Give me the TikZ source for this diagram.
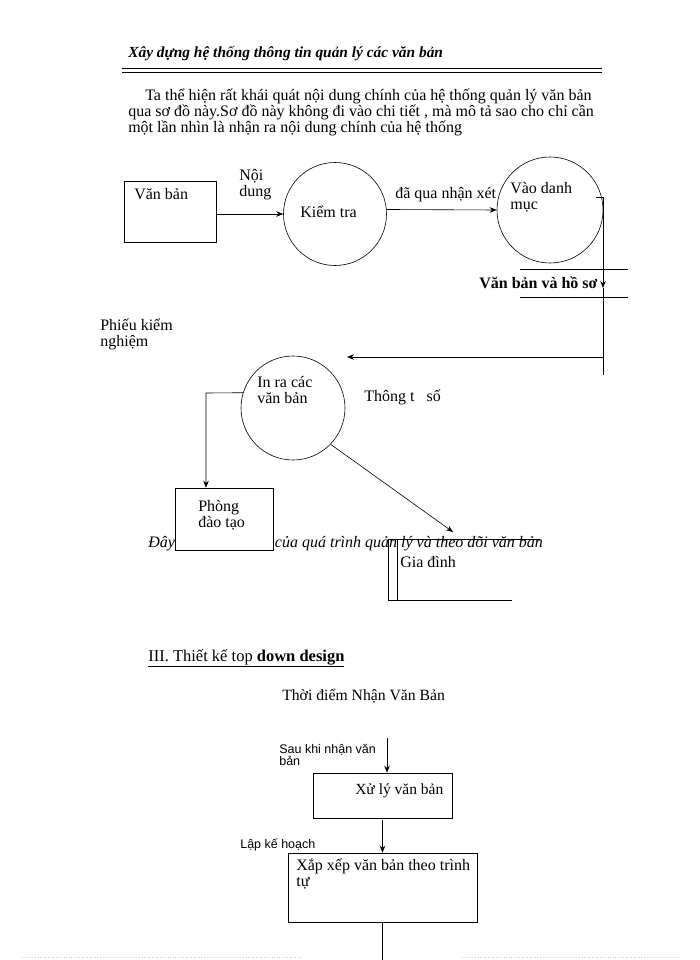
\documentclass[tikz,border=0pt]{standalone}
\usepackage{fontspec}
\setmainfont{Liberation Serif}
\newfontfamily\arialfont{Liberation Sans}
\usetikzlibrary{arrows.meta}
\begin{document}
\begin{tikzpicture}[x=1pt,y=-1pt,every node/.style={inner sep=0pt,align=left},arrow/.style={>={Stealth[length=7pt,width=5.5pt]},->},hop/.style={draw,rectangle,fill=white},tron/.style={draw,circle},nho/.style={font=\arialfont\fontsize{12.5}{12}\selectfont},font=\fontsize{16}{16}\selectfont,line width=0.6pt]
    \useasboundingbox (0,0) rectangle (700,960);
    % tieu de trang
    \node[anchor=base west,font=\fontsize{15.4}{18}\selectfont\bfseries\itshape] (tieude) at (128,58) {Xây dựng hệ thống thông tin quản lý các văn bản};
    \draw[line width=1.8pt] (122,68.5) -- (602,68.5);
    \draw (122,72) -- (602,72);
    % doan van
    \foreach \x/\y/\dong in {145/101/{Ta thể hiện rất khái quát nội dung chính của hệ thống quản lý văn bản},128/117/{qua sơ đồ này.Sơ đồ này không đi vào chi tiết , mà mô tả sao cho chỉ cần},128/133/{một lần nhìn là nhận ra nội dung chính của hệ thống}}
        \path node[anchor=base west] (dong\y) at (\x,\y) {\dong};
    % so do tong quat
    \node[hop,minimum width=92,minimum height=61] (vb) at (170,211.5) {};
    \path node[anchor=base west] (tvb) at (134,200) {Văn bản};
    \path node[anchor=north west] (nd) at (239,169) {Nội\\dung};
    \node[tron,minimum size=103] (kt) at (335,214) {};
    \path node[anchor=base west] (tkt) at (300,217) {Kiểm tra};
    \node[tron,minimum size=106] (vdm) at (550,210) {};
    \path node[anchor=north west] (tvdm) at (510,182) {Vào danh\\mục};
    \path node[anchor=base west] (nx) at (395,198) {đã qua nhận xét};
    \draw[arrow] (vb.east|-kt.west) -- (kt.west);
    \draw[arrow] (kt.5) -- (vdm.west);
    % kho van ban
    \draw (520,269) -- (628,269) (520,297) -- (628,297);
    \path node[anchor=base west,font=\fontsize{16}{16}\selectfont\bfseries] (vbhs) at (479,288) {Văn bản và hồ sơ};
    \coordinate (goc) at (603,197);
    \coordinate (cuoi) at (603,375);
    \coordinate (re) at (603,357);
    \coordinate (dich) at (347,357);
    \draw ([xshift=-7pt]goc) -- (goc);
    \draw[arrow] (goc) -- (goc|-vbhs.base);
    \draw (goc|-vbhs.base) -- (cuoi);
    \draw[arrow] (re) -- (dich);
    \path node[anchor=north west] (pkn) at (100,319) {Phiếu kiểm\\nghiệm};
    % in ra
    \node[tron,minimum size=104] (ir) at (293,408) {};
    \path node[anchor=north west] (tir) at (257,376) {In ra các\\văn bản};
    \path node[anchor=base west] (tts) at (364,401) {Thông t\hspace{12pt}số};
    \path node[anchor=base west,font=\fontsize{16}{16}\selectfont\itshape] (chuthich) at (148,547) {Đây\hspace{100pt}của quá trình quản lý và theo dõi văn bản};
    \node[hop,minimum width=98,minimum height=62] (pdt) at (224,519) {};
    \path node[anchor=north west] (tpdt) at (198,500) {Phòng\\đào tạo};
    \coordinate (re2) at (206,393);
    \draw[arrow] (ir.163) -- (re2) -- (re2|-pdt.north);
    % gia dinh
    \draw (540,539) -- (388,539) -- (388,600) -- (512,600) (397,539) -- (397,600);
    \path node[anchor=base west] (gd) at (400,567) {Gia đình};
    \coordinate (dgd) at (453,532);
    \draw[arrow] (ir.-44) -- (dgd);
    % muc III
    \path node[anchor=base west,font=\fontsize{16.5}{18}\selectfont] (muc3) at (148,661) {\underline{III. Thiết kế top \textbf{down design}}};
    \path node[anchor=base west,font=\fontsize{15.7}{17}\selectfont] (tdn) at (282,700) {Thời điểm Nhận Văn Bản};
    % top down
    \coordinate (vao) at (387,738);
    \node[hop,minimum width=139,minimum height=45] (xl) at (382.5,795.5) {};
    \path node[anchor=base west,font=\fontsize{15.5}{17}\selectfont] (txl) at (355,794) {Xử lý văn bản};
    \path node[anchor=north west,nho] (skn) at (279,744) {Sau khi nhận văn\\bản};
    \draw[arrow] (vao) -- (vao|-xl.north);
    \node[hop,minimum width=189,minimum height=69] (xx) at (382.5,887.5) {};
    \path node[anchor=north west] (txx) at (296,859) {Xắp xếp văn bản theo trình\\tự};
    \path node[anchor=base west,nho] (lkh) at (240,848) {Lập kế hoạch};
    \draw[arrow] ([yshift=-2pt]xl.south) -- (xx.north);
    \coordinate (day) at (382.5,960);
    \draw (xx.south) -- (day);
    \draw[gray!40,dotted] (22,957) -- (302,957) (462,957) -- (680,957);
\end{tikzpicture}
\end{document}
